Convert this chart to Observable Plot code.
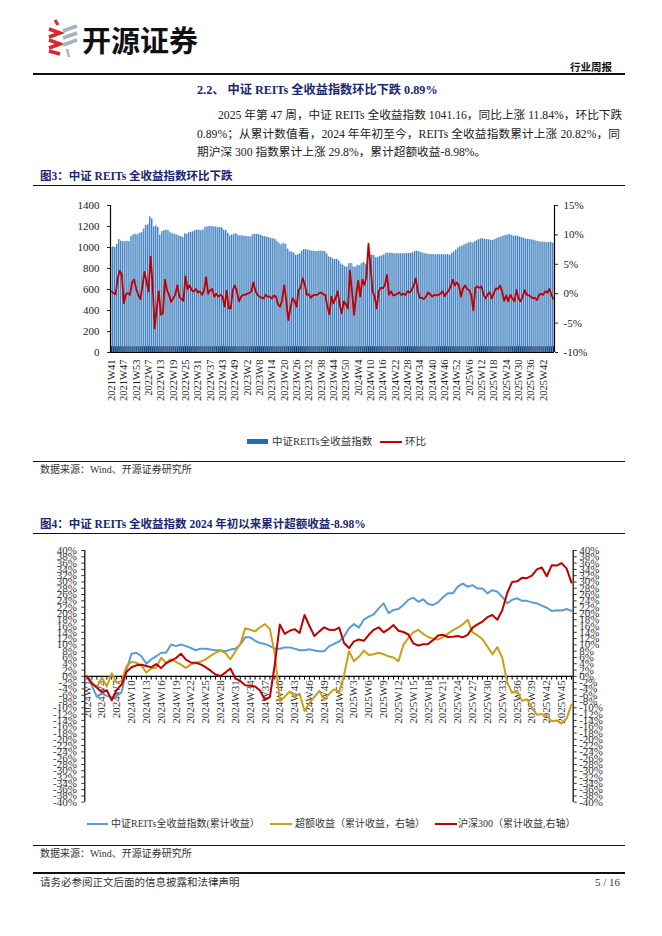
<!DOCTYPE html>
<html><head><meta charset="utf-8">
<script src="https://cdn.jsdelivr.net/npm/d3@7"></script>
<script src="https://cdn.jsdelivr.net/npm/@observablehq/plot@0.6"></script>
<style>
body{margin:0;background:#fff;}
#page{position:relative;width:662px;height:936px;overflow:hidden;font-family:"Liberation Serif","Noto Sans CJK SC",serif;color:#222;}
.a{position:absolute;white-space:nowrap;}
.hr{position:absolute;left:33px;width:592px;background:#111;}
.navy{color:#1b2670;font-weight:bold;}
.pl{position:absolute;font-size:11.7px;line-height:18px;white-space:nowrap;}
.just{text-align:justify;text-align-last:justify;}
.leg{position:absolute;font-size:10.5px;line-height:12px;color:#333;white-space:nowrap;}
</style></head>
<body><div id="page">
<svg class="a" style="left:46px;top:19px" width="34" height="40" viewBox="0 0 34 40">
  <path d="M9,1 L12,6" stroke="#d6282d" stroke-width="3" fill="none"/>
  <path d="M3,10 L14,14 L3,18" stroke="#d6282d" stroke-width="3.6" fill="none"/>
  <path d="M3,21 L14,25 L3,29" stroke="#d6282d" stroke-width="3.6" fill="none"/>
  <path d="M3,32 L14,35" stroke="#d6282d" stroke-width="3.6" fill="none"/>
  <path d="M17,12 L31,7" stroke="#a9b3bd" stroke-width="3.6" fill="none"/>
  <path d="M17,19 L31,14" stroke="#a9b3bd" stroke-width="3.6" fill="none"/>
  <path d="M17,26 L31,21" stroke="#a9b3bd" stroke-width="3.6" fill="none"/>
  <path d="M21,30 L23,38" stroke="#a9b3bd" stroke-width="2.5" fill="none"/>
</svg>
<div class="a" style="left:82px;top:20px;font-family:'Noto Sans CJK SC';font-weight:700;font-size:29px;line-height:38px;color:#111;">开源证券</div>
<div class="a" style="left:570px;top:60px;font-size:10.5px;line-height:13px;font-weight:bold;font-family:'Noto Sans CJK SC';color:#111;">行业周报</div>
<div class="hr" style="top:73px;height:1.5px"></div>

<div class="a navy" style="left:197px;top:82px;font-size:12.2px;line-height:16px;">2.2、 中证 REITs 全收益指数环比下跌 0.89%</div>
<div class="pl just" style="left:218px;top:107px;width:402px;">2025 年第 47 周，中证 REITs 全收益指数 1041.16，同比上涨 11.84%，环比下跌</div>
<div class="pl just" style="left:197px;top:125.5px;width:423px;">0.89%；从累计数值看，2024 年年初至今，REITs 全收益指数累计上涨 20.82%，同</div>
<div class="pl" style="left:197px;top:144px;">期沪深 300 指数累计上涨 29.8%，累计超额收益-8.98%。</div>

<div class="a navy" style="left:40px;top:169px;font-size:11.5px;line-height:14px;">图3：中证 REITs 全收益指数环比下跌</div>
<div class="hr" style="top:184.5px;height:1.5px"></div>
<div class="a" style="left:247px;top:439px;width:21px;height:5px;background:#1f6db3"></div>
<div class="leg" style="left:272px;top:435.5px;">中证REITs全收益指数</div>
<div class="a" style="left:380px;top:440.5px;width:22px;height:2px;background:#c00000"></div>
<div class="leg" style="left:405px;top:435.5px;">环比</div>
<div class="hr" style="top:461px;height:1px"></div>
<div class="a" style="left:40px;top:464px;font-size:10px;line-height:12px;color:#333;">数据来源：Wind、开源证券研究所</div>

<div class="a navy" style="left:40px;top:517px;font-size:11.5px;line-height:14px;">图4：中证 REITs 全收益指数 2024 年初以来累计超额收益-8.98%</div>
<div class="hr" style="top:532.5px;height:1.5px"></div>
<div class="a" style="left:87px;top:823px;width:21px;height:2px;background:#5b9bd5"></div>
<div class="leg" style="left:111px;top:818px;font-size:10px;">中证REITs全收益指数(累计收益）</div>
<div class="a" style="left:270px;top:823px;width:22px;height:2px;background:#c9a016"></div>
<div class="leg" style="left:295px;top:818px;font-size:10px;">超额收益（累计收益，右轴）</div>
<div class="a" style="left:435px;top:823px;width:22px;height:2px;background:#c00000"></div>
<div class="leg" style="left:458px;top:818px;font-size:10px;">沪深300（累计收益,右轴）</div>
<div class="hr" style="top:845px;height:1px"></div>
<div class="a" style="left:40px;top:848px;font-size:10px;line-height:12px;color:#333;">数据来源：Wind、开源证券研究所</div>

<div class="hr" style="top:872px;height:1.5px"></div>
<div class="a" style="left:40px;top:876px;font-size:10.5px;line-height:13px;color:#333;">请务必参阅正文后面的信息披露和法律声明</div>
<div class="a" style="right:42px;top:876px;font-size:11px;line-height:13px;color:#333;">5 / 16</div>
</div>
<script>
// ---------- Chart 1 data: weekly ----------
const weekSegments1 = [[2021, 41, 53], [2022, 2, 53], [2023, 1, 52], [2024, 1, 52], [2025, 1, 47]];
const weeks1 = weekSegments1.flatMap(([y, a, b]) => d3.range(a, b + 1).map(w => `${y}W${w}`));
const reitsIndex = [
  1000, 1005, 1000, 1030, 1075, 1060, 1055, 1055, 1058, 1055,
  1105, 1120, 1125, 1120, 1135, 1140, 1175, 1210, 1215, 1290,
  1270, 1195, 1205, 1190, 1115, 1150, 1160, 1165, 1160, 1140,
  1130, 1125, 1120, 1110, 1105, 1095, 1130, 1125, 1140, 1145,
  1150, 1160, 1165, 1165, 1160, 1168, 1195, 1195, 1200, 1200,
  1195, 1195, 1188, 1190, 1185, 1165, 1160, 1135, 1110, 1118,
  1125, 1130, 1115, 1110, 1110, 1105, 1105, 1103, 1100, 1122,
  1125, 1125, 1120, 1115, 1105, 1102, 1098, 1093, 1085, 1082,
  1075, 1055, 1035, 1025, 1040, 1030, 985, 960, 955, 945,
  925, 930, 940, 965, 980, 978, 975, 968, 965, 963,
  962, 963, 965, 964, 962, 940, 910, 905, 890, 885,
  888, 870, 842, 830, 815, 812, 845, 848, 815, 812,
  830, 826, 846, 858, 840, 910, 925, 928, 922, 900,
  905, 915, 920, 930, 945, 944, 946, 944, 940, 940,
  941, 940, 940, 940, 942, 943, 945, 950, 962, 965,
  958, 952, 945, 940, 935, 935, 932, 932, 930, 930,
  931, 933, 930, 930, 932, 925, 945, 958, 975, 995,
  1005, 1012, 1025, 1033, 1043, 1050, 1040, 1055, 1065, 1075,
  1080, 1082, 1075, 1075, 1072, 1065, 1068, 1078, 1085, 1095,
  1100, 1108, 1115, 1118, 1122, 1115, 1105, 1110, 1105, 1098,
  1092, 1088, 1078, 1078, 1075, 1072, 1068, 1060, 1055, 1052,
  1050, 1050, 1045, 1048, 1050, 1041.16
];
const reitsWoW = [
  0.4, 0.1, -0.1, 2.6, 3.9, 3.2, -1.6, -0.1, 0.1, -0.2,
  1.9, 2.4, 0.8, -0.2, -0.9, 1.2, 3.7, 2.1, 0.4, 6.3,
  1.5, -5.9, -2.5, 0.4, -3.6, -3.3, 2.4, 0.6, -0.2, -1.4,
  -0.8, -0.2, 1.4, -0.5, -0.9, -1.2, 2.9, 0.8, 1.4, 0.6,
  0.4, 0.8, 0.2, 0.4, -0.2, 0.5, 2.8, 0, 0.6, 0.8,
  -0.5, 0, -0.5, -0.2, -0.5, -2.2, 0.5, -2.5, -2.5, 0.6,
  1.4, 0.4, -1.3, -0.5, -0.2, -0.2, 0, 0.1, 0.4, 1.9,
  0.5, -0.2, -0.5, -0.7, -0.8, -0.2, -0.5, -0.5, -0.8, -0.3,
  -0.5, -1.8, -2.2, -1.1, 1.4, -1.1, -4.5, -2.5, -0.8, -1.2,
  -2.2, 0.6, 1.0, 2.6, 1.6, -0.2, -0.1, -0.7, -0.3, -0.2,
  -0.2, 0.1, 0.2, -0.1, -0.2, -2.2, -3.5, -0.5, -1.6, -0.8,
  0.4, -1.9, -3.3, -1.3, -1.8, -2.5, 3.9, 0.4, -3.6, -0.2,
  2.2, -0.5, 2.4, 1.5, 2.9, 8.5, 4.6, 0.4, -0.5, -2.5,
  0.4, 1.0, 0.9, 1.5, 3.2, -0.2, 0.4, -0.3, -0.2, 0,
  0.2, -0.2, 0, -0.2, 0.4, 0.2, 0.6, 1.4, 2.6, 0.4,
  -0.7, -0.7, -0.9, -0.5, 0.2, -0.1, -0.5, -0.2, -0.3, -0.2,
  0, 0.4, -0.4, 0.1, 0.5, 1.2, 2.4, 1.4, 1.9, 1.4,
  -0.5, 0.9, 1.4, 0.8, 0.6, -0.2, -2.8, 1.0, 1.2, 1.0,
  1.2, -0.2, -0.8, -0.1, 0.2, -0.8, 0.1, 0.9, 0.8, 1.4,
  0.4, -1.2, -0.3, -1.3, -0.2, -0.8, -1.3, 0.6, -0.8, -1.3,
  -0.5, 0.6, -0.2, -0.3, -0.5, -0.8, -0.7, -1.1, -0.2, 0,
  -0.2, 0.4, 0.2, 0.8, -0.2, -0.89
];
const leftTicks1 = [0, 200, 400, 600, 800, 1000, 1200, 1400];
const rightTicks1 = [-10, -5, 0, 5, 10, 15];

// ---------- Chart 2 data: cumulative since 2024 ----------
const weekSegments2 = [[2024, 1, 52], [2025, 1, 47]];
const weeks2 = weekSegments2.flatMap(([y, a, b]) => d3.range(a, b + 1).map(w => `${y}W${w}`));
const cumReits = [
  0, -3.0, -6.5, -5.5, -6.2, -6.7, -6.2, -5.1, 2.2, 7.2,
  7.5, 6.4, 4.0, 5.4, 6.4, 7.5, 7.5, 10.1, 9.6, 10.1,
  9.6, 9.0, 8.3, 8.8, 8.8, 8.5, 8.3, 8.3, 8.0, 8.5,
  8.8, 10.1, 12.4, 12.4, 11.3, 10.6, 10.3, 9.6, 8.8, 8.8,
  9.2, 9.2, 8.8, 8.3, 8.3, 8.6, 8.2, 8.0, 8.0, 9.6,
  10.3, 11.1, 12.7, 15.3, 16.6, 15.5, 18.0, 19.0, 19.7, 21.6,
  23.2, 20.1, 21.1, 21.4, 22.7, 24.3, 25.0, 23.7, 24.5, 23.0,
  22.7, 23.5, 25.1, 26.4, 26.4, 28.5, 29.5, 28.5, 29.0, 27.9,
  27.9, 26.4, 27.4, 26.9, 25.3, 23.2, 24.3, 24.8, 24.0, 24.0,
  23.5, 23.2, 22.5, 21.8, 20.8, 21.0, 20.9, 21.4, 20.82
];
const cumExcess = [
  0, -2.0, -3.4, -0.4, -3.2, 1.0, -2.0, -1.5, 3.3, 4.6,
  4.3, 3.5, 1.2, 2.5, 2.7, 5.9, 4.2, 5.4, 4.6, 3.7,
  2.7, 3.8, 4.3, 4.7, 5.4, 6.5, 7.5, 8.2, 7.4, 5.4,
  7.9, 10.2, 15.3, 14.8, 14.3, 15.6, 16.6, 15.0, 7.0, -8.0,
  -6.5, -4.8, -6.5, -5.5, -11.0, -8.5, -6.5, -4.6, -7.5, -5.5,
  -4.1, -5.2, 0.5, 8.0, 4.8, 6.2, 8.2, 6.8, 7.0, 7.5,
  7.0, 6.4, 6.0, 4.8, 10.0, 12.2, 14.0, 14.8, 13.5, 12.5,
  12.0, 11.7, 12.5, 13.6, 14.6, 15.5, 16.5, 18.0, 14.0, 13.0,
  11.8, 9.5, 7.0, 9.3, 5.9, -2.0, -5.2, -4.6, -7.8, -7.3,
  -9.8, -12.2, -12.0, -12.5, -14.3, -14.0, -15.0, -13.5, -8.98
];
const cumHS300 = [
  0, -2.3, -3.6, -5.0, -4.4, -7.6, -4.3, -2.6, 1.5, 2.9,
  3.5, 3.7, 3.3, 2.9, 3.9, 2.6, 4.2, 5.0, 5.8, 7.2,
  5.3, 4.4, 4.3, 3.8, 2.9, 1.8, 0.6, 0.1, 1.2, 2.5,
  -0.6, -1.5, -2.8, -3.0, -3.2, -4.5, -7.5, -6.5, 4.0, 16.5,
  13.5, 14.5, 15.0, 13.8, 19.5, 16.0, 12.8, 14.3, 15.6, 14.8,
  14.7, 15.5, 10.6, 9.0, 11.1, 11.7, 11.3, 13.2, 14.8, 15.6,
  14.0, 15.0, 16.3, 14.5, 14.1, 13.3, 10.5, 9.8, 10.2, 10.3,
  11.5, 13.0, 13.2, 12.5, 12.6, 12.8, 12.4, 13.2, 15.5, 16.5,
  17.4, 18.8, 19.5, 18.0, 21.0, 26.5, 30.0, 30.2, 31.3, 31.2,
  32.0, 34.0, 34.6, 31.8, 35.3, 35.2, 36.0, 34.3, 29.8
];
const pctTicks2 = d3.range(-40, 41, 2);

// ---------- build tables ----------
const data1 = weeks1.map((w, i) => ({i, week: w, idx: reitsIndex[i], pct: reitsWoW[i]}));
const data2 = weeks2.map((w, i) => ({i, week: w, reits: cumReits[i], excess: cumExcess[i], hs300: cumHS300[i]}));
if (reitsIndex.length !== weeks1.length || reitsWoW.length !== weeks1.length) console.error("chart1 length", weeks1.length, reitsIndex.length, reitsWoW.length);
if ([cumReits, cumExcess, cumHS300].some(a => a.length !== weeks2.length)) console.error("chart2 length", weeks2.length, cumReits.length, cumExcess.length, cumHS300.length);

const labelIdx1 = d3.range(0, weeks1.length, 6);
const labelIdx2 = d3.range(0, weeks2.length, 3);
// right axis of chart 1 maps -10%..15% onto 0..1400
const pctToLeft = p => (p + 10) * 56;
const font = '"Liberation Serif", serif';

function place(svg, top) {
  svg.style.position = "absolute";
  svg.style.left = "0px";
  svg.style.top = top + "px";
  svg.style.overflow = "visible";
}

const c1 = Plot.plot({
  width: 662, height: 230,
  marginLeft: 110, marginRight: 108, marginTop: 15, marginBottom: 68,
  style: {fontFamily: font, fontSize: "11px", color: "#222", background: "none"},
  x: {domain: [-0.5, weeks1.length - 0.5], axis: null, label: null},
  y: {domain: [0, 1400], axis: null, label: null},
  marks: [
    Plot.rectY(data1, {x1: d => d.i - 0.5, x2: d => d.i + 0.5, y1: 0, y2: "idx", fill: "#a4c8ea"}),
    Plot.rectY(data1, {x1: d => d.i - 0.5, x2: d => d.i - 0.15, y1: 0, y2: "idx", fill: "#1f62a6"}),
    Plot.ruleX(data1, {x: "i", y1: 0, y2: 55, stroke: "#16365f", strokeWidth: 1}),
    Plot.lineY(data1, {x: "i", y: d => pctToLeft(d.pct), stroke: "#c00000", strokeWidth: 1.8}),
    Plot.ruleY([0], {stroke: "#000", strokeWidth: 1.2}),
    Plot.ruleX([-0.5, weeks1.length - 0.5], {stroke: "#000", strokeWidth: 1.2}),
    Plot.axisY({anchor: "left", ticks: leftTicks1, tickSize: 3, tickPadding: 8, label: null, tickFormat: d => String(d)}),
    Plot.axisY({anchor: "right", ticks: rightTicks1.map(pctToLeft), tickSize: 3, tickPadding: 6, label: null,
      tickFormat: v => `${rightTicks1[Math.round(v / 280)]}%`}),
    Plot.axisX({anchor: "bottom", ticks: labelIdx1, tickFormat: i => weeks1[i], tickRotate: -90,
      tickSize: 0, tickPadding: 7, fontSize: 10.5, label: null})
  ]
});
place(c1, 190);
document.getElementById("page").append(c1);

const xDom2 = [-0.45, 98.35];
const c2 = Plot.plot({
  width: 662, height: 270,
  marginLeft: 84.3, marginRight: 89.3, marginTop: 10, marginBottom: 8.3,
  style: {fontFamily: font, fontSize: "11px", color: "#333", background: "none"},
  x: {domain: xDom2, axis: null, label: null},
  y: {domain: [-40, 40], axis: null, label: null},
  marks: [
    Plot.ruleY([0], {stroke: "#000", strokeWidth: 1.2}),
    Plot.ruleX(xDom2, {stroke: "#000", strokeWidth: 1.2}),
    Plot.ruleX(data2, {x: "i", y1: 0, y2: -1.2, stroke: "#000", strokeWidth: 1}),
    Plot.text(labelIdx2, {x: d => d, y: 0, text: d => weeks2[d], rotate: -90, textAnchor: "end",
      dy: 4, fontSize: 11, fill: "#333"}),
    Plot.lineY(data2, {x: "i", y: "reits", stroke: "#5b9bd5", strokeWidth: 2}),
    Plot.lineY(data2, {x: "i", y: "excess", stroke: "#c9a016", strokeWidth: 2}),
    Plot.lineY(data2, {x: "i", y: "hs300", stroke: "#c00000", strokeWidth: 2}),
    Plot.axisY({anchor: "left", ticks: pctTicks2, tickSize: 3, tickPadding: 5, label: null, tickFormat: d => `${d}%`}),
    Plot.axisY({anchor: "right", ticks: pctTicks2, tickSize: 3, tickPadding: 3, label: null, tickFormat: d => `${d}%`})
  ]
});
place(c2, 540);
document.getElementById("page").append(c2);
</script>
</body></html>
